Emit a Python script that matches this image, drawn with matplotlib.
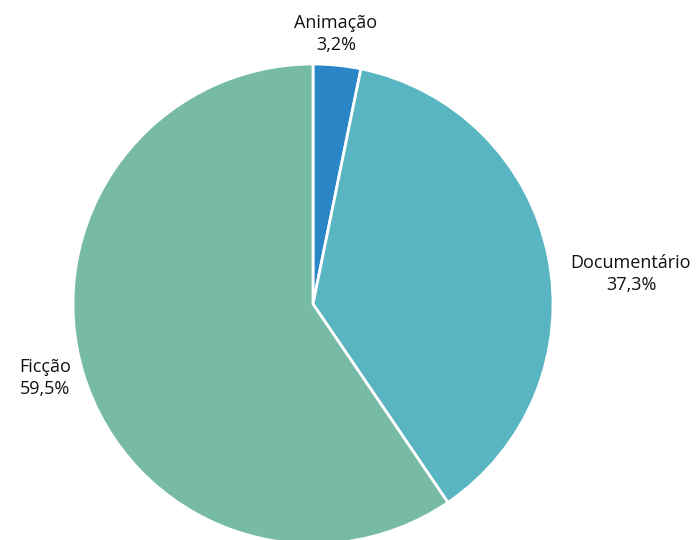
import matplotlib.pyplot as plt

categories = ["Animação", "Documentário", "Ficção"]
shares = [3.2, 37.3, 59.5]
share_labels = ["3,2%", "37,3%", "59,5%"]
colors = ["#2b86c8", "#59b5c1", "#77bba7"]

# pixel layout of the reference
W, H = 696, 540
cx, cy, R = 313, 304, 240

fig = plt.figure(figsize=(W / 100, H / 100), dpi=100)
ax = fig.add_axes([0, 0, 1, 1])
ax.pie(shares, colors=colors, startangle=90, counterclock=False,
       radius=1.0, wedgeprops=dict(edgecolor="white", linewidth=2))
ax.set_xlim(-cx / R, (W - cx) / R)
ax.set_ylim(-(H - cy) / R, cy / R)
ax.set_aspect("equal")
ax.axis("off")

# label anchors (pixel centres in the reference)
label_px = [(336, 34), (631, 274), (45, 378)]
for name, lab, (px, py) in zip(categories, share_labels, label_px):
    ax.text((px - cx) / R, (cy - py) / R, name + "\n" + lab,
            ha="center", va="center", fontsize=13, color="#111111",
            family=["Open Sans", "DejaVu Sans"], linespacing=1.35)

fig.savefig("out.png", dpi=100)
